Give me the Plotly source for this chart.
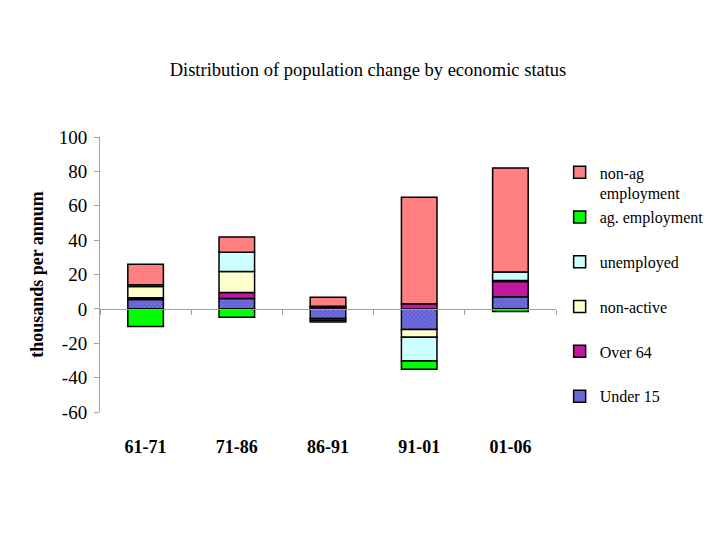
import plotly.graph_objects as go

periods = ["61-71", "71-86", "86-91", "91-01", "01-06"]
under15 = [5.5, 6.0, -5.6, -12.0, 7.0]
over64 = [1.0, 3.6, 1.0, 3.0, 9.0]
non_active = [6.5, 12.2, -1.0, -4.5, 0.5]
unemployed = [1.0, 11.2, 0.6, -13.8, 5.0]
ag_employment = [-10.2, -4.8, -1.0, -4.8, -1.5]
non_ag_employment = [12.0, 8.8, 5.2, 62.0, 60.5]
y_ticks = [-60, -40, -20, 0, 20, 40, 60, 80, 100]

series = [
    ("Under 15", under15, "#7070E0", "g0"),
    ("Over 64", over64, "#C0189F", "g1"),
    ("non-active", non_active, "#FFFFCC", "g2"),
    ("unemployed", unemployed, "#CCFFFF", "g3"),
    ("ag. employment", ag_employment, "#00FF00", "g4"),
    ("non-ag<br>employment", non_ag_employment, "#FF8080", "g4"),
]

FONT = "Liberation Serif"
fig = go.Figure()
n = len(series)
for i, (name, vals, color, grp) in enumerate(series):
    marker = dict(color=color, line=dict(color="black", width=1.5))
    if name == "Under 15":
        marker["pattern"] = dict(shape="x", size=3, solidity=0.35,
                                 fgcolor="#3030A0", bgcolor=color, fillmode="overlay")
    fig.add_trace(go.Bar(x=periods, y=vals, name=name, marker=marker,
                         legendgroup=grp, legendrank=n - i))

# zero-line category axis with boundary ticks
fig.add_trace(go.Scatter(x=periods, y=[None]*5, xaxis="x2", showlegend=False,
                         hoverinfo="skip"))

# page body has an 8px margin: the figure is sized/margined to compensate
fig.update_layout(
    width=712, height=532,
    barmode="relative",
    bargap=0.61,
    paper_bgcolor="white", plot_bgcolor="white",
    margin=dict(l=92, r=164, t=129, b=128, autoexpand=False),
    font=dict(family=FONT, color="black", size=16),
    title=dict(text="Distribution of population change by economic status",
               x=0.5 + 4/712, xanchor="center", y=0.885, yanchor="middle",
               font=dict(family=FONT, size=18.5, color="black")),
    xaxis=dict(type="category", showline=False, ticks="", showgrid=False,
               tickfont=dict(family=FONT, size=18, weight="bold"),
               ticklabelstandoff=22),
    xaxis2=dict(type="category", overlaying="x", matches="x", anchor="free",
                position=0.375, showline=True, linecolor="#A0A0A0",
                linewidth=1, ticks="outside", tickson="boundaries",
                ticklen=5, tickcolor="#A0A0A0", showticklabels=False,
                showgrid=False),
    yaxis=dict(range=[-60, 100], tickvals=y_ticks,
               ticktext=[str(v) for v in y_ticks],
               showline=True, linecolor="#A0A0A0",
               linewidth=1, ticks="outside", ticklen=5, tickcolor="#A0A0A0",
               showgrid=False, zeroline=False, ticklabelstandoff=3,
               tickfont=dict(family=FONT, size=19),
               title=dict(text="thousands per annum",
                          font=dict(family=FONT, size=18, weight="bold"),
                          standoff=10)),
    legend=dict(x=1.008, xanchor="left", y=0.933, yanchor="top",
                traceorder="grouped", tracegroupgap=21,
                valign="top", font=dict(family=FONT, size=16),
                itemwidth=30),
)
fig.write_html("out.html")
